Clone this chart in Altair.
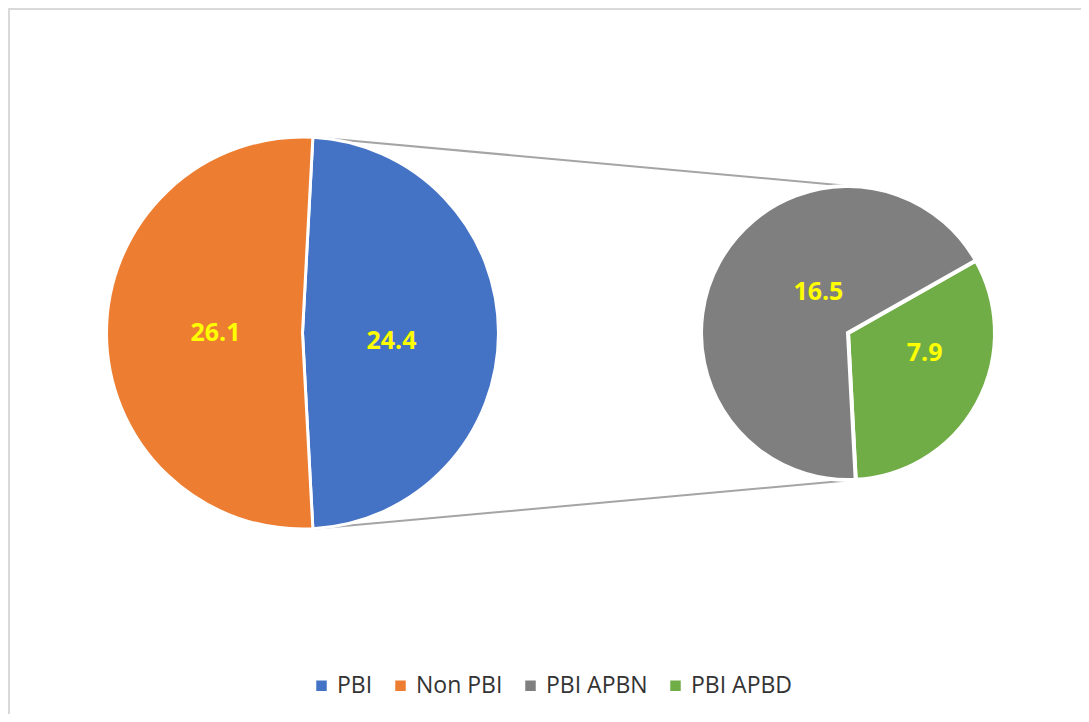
import math
import altair as alt
import pandas as pd

# ---- data ----
main_cats = ["PBI", "Non PBI"]
main_vals = [24.4, 26.1]
sub_cats = ["PBI APBD", "PBI APBN"]
sub_vals = [7.9, 16.5]
legend_cats = ["PBI", "Non PBI", "PBI APBN", "PBI APBD"]
legend_colors = ["#4472C4", "#ED7D31", "#7F7F7F", "#70AD47"]

main_df = pd.DataFrame({"cat": main_cats, "val": main_vals, "ord": list(range(len(main_cats)))})
sub_df = pd.DataFrame({"cat": sub_cats, "val": sub_vals, "ord": list(range(len(sub_cats)))})

# ---- geometry (view coordinates; view origin is page (8, 8)) ----
W, H = 1073, 706
MX, MY, MR = 294.5, 325, 196
SX, SY, SR = 840, 325, 147

# main pie: split slice (PBI) centred on the right-hand side
pbi_span = 360 * main_vals[0] / sum(main_vals)
main_start = math.radians(90 - pbi_span / 2)
# secondary pie: PBI APBD slice ends near the bottom
apbd_span = 360 * sub_vals[0] / sum(sub_vals)
sub_start = math.radians(177 - apbd_span)

color = alt.Color(
    "cat:N",
    scale=alt.Scale(domain=legend_cats, range=legend_colors),
    legend=alt.Legend(
        title=None,
        orient="none",
        direction="horizontal",
        legendX=302,
        legendY=666,
        symbolType="square",
        symbolSize=110,
        symbolStrokeWidth=0,
        labelFont="Open Sans",
        labelFontSize=23,
        labelColor="#333333",
        labelOffset=4,
        columnPadding=16,
    ),
)

main_theta = alt.Theta("val:Q", stack=True,
                       scale=alt.Scale(range=[main_start, main_start + 2 * math.pi]))
sub_theta = alt.Theta("val:Q", stack=True,
                      scale=alt.Scale(range=[sub_start, sub_start + 2 * math.pi]))

main_base = alt.Chart(main_df).encode(theta=main_theta, order=alt.Order("ord:Q"))
sub_base = alt.Chart(sub_df).encode(theta=sub_theta, order=alt.Order("ord:Q"))

main_arc = main_base.mark_arc(radius=MR, stroke="white", strokeWidth=3).encode(
    x=alt.value(MX), y=alt.value(MY), color=color)
sub_arc = sub_base.mark_arc(radius=SR, stroke="white", strokeWidth=4).encode(
    x=alt.value(SX), y=alt.value(SY), color=color)


def label(base, cat, cx, cy, rad, dx, dy):
    return base.mark_text(
        radius=rad, dx=dx, dy=dy, font="Open Sans", fontSize=25, fontWeight="bold",
        fill="#FFFF00", align="center", baseline="middle",
    ).encode(
        x=alt.value(cx), y=alt.value(cy),
        text=alt.condition(alt.datum.cat == cat, alt.Text("val:Q", format=".1f"), alt.value("")),
    )


main_layer = alt.layer(
    main_arc,
    label(main_base, "Non PBI", MX, MY, 87, 0, 0),
    label(main_base, "PBI", MX, MY, 87, 2, 8),
)
sub_layer = alt.layer(
    sub_arc,
    label(sub_base, "PBI APBN", SX, SY, 60, 23, -12),
    label(sub_base, "PBI APBD", SX, SY, 60, 24, -9),
)


def polar(cx, cy, r, deg):
    a = math.radians(deg)
    return cx + r * math.sin(a), cy - r * math.cos(a)


t1 = polar(MX, MY, MR, 90 - pbi_span / 2 + 1)
t2 = polar(SX, SY, SR, 10)
b1 = polar(MX, MY, MR, 90 + pbi_span / 2 - 1)
b2 = polar(SX, SY, SR, 177)

conn_df = pd.DataFrame({"k": ["top", "bottom"]})
top_line = alt.Chart(conn_df).transform_filter(alt.datum.k == "top").mark_rule(
    color="#A5A5A5", strokeWidth=2).encode(
    x=alt.value(t1[0]), y=alt.value(t1[1]), x2=alt.value(t2[0]), y2=alt.value(t2[1]))
bot_line = alt.Chart(conn_df).transform_filter(alt.datum.k == "bottom").mark_rule(
    color="#A5A5A5", strokeWidth=2).encode(
    x=alt.value(b1[0]), y=alt.value(b1[1]), x2=alt.value(b2[0]), y2=alt.value(b2[1]))

left_border = alt.Chart(conn_df).transform_filter(alt.datum.k == "top").mark_rule(
    color="#D9D9D9", strokeWidth=2).encode(
    x=alt.value(1), y=alt.value(0), y2=alt.value(H))
top_border = alt.Chart(conn_df).transform_filter(alt.datum.k == "top").mark_rule(
    color="#D9D9D9", strokeWidth=2).encode(
    x=alt.value(0), x2=alt.value(W), y=alt.value(1))

chart = alt.layer(
    left_border, top_border, top_line, bot_line, main_layer, sub_layer
).resolve_scale(theta="independent").properties(
    width=W, height=H, padding=0, autosize=alt.AutoSizeParams(type="none")
).configure_view(stroke=None)

chart.save("out.html", embed_options={"renderer": "svg", "actions": False})
